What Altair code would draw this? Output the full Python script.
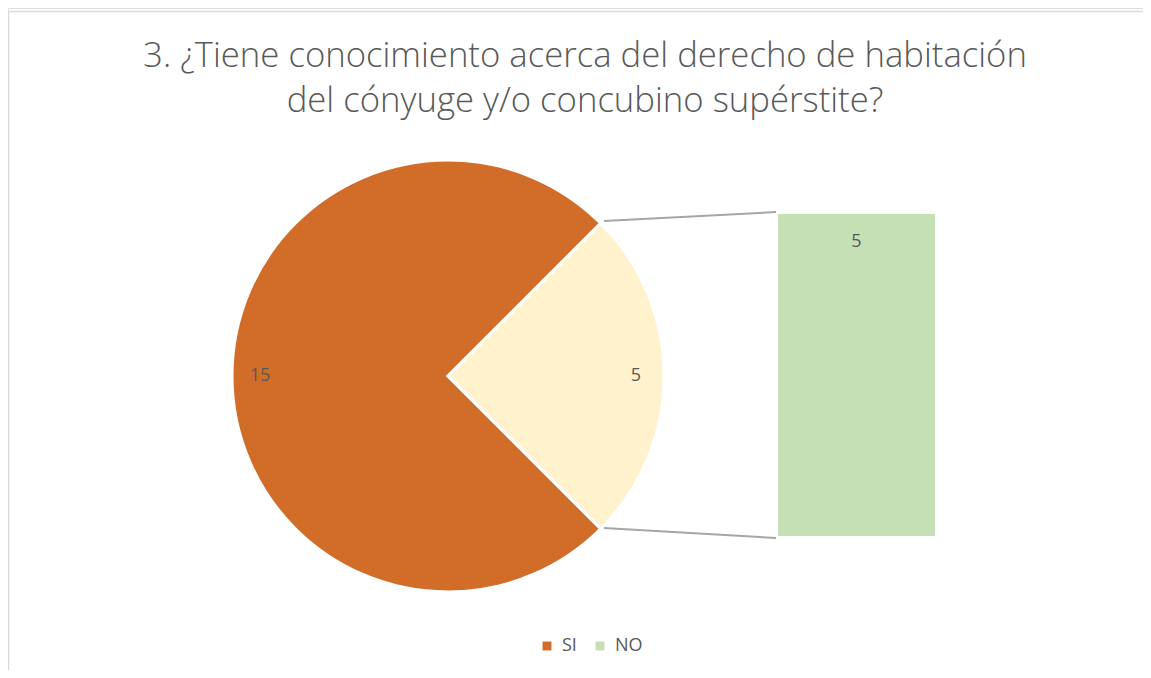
import math
import altair as alt
import pandas as pd

# ---- data ----
categories = ["SI", "NO"]
values = [15, 5]
slice_order = [1, 0]
bar_categories = ["NO"]
bar_values = [5]
bar_base = [0]
title_lines = ["3. ¿Tiene conocimiento acerca del derecho de habitación",
               "del cónyuge y/o concubino supérstite?"]

pie_df = pd.DataFrame({"cat": categories, "value": values, "ord": slice_order})
bar_df = pd.DataFrame({"cat": bar_categories, "value": bar_values, "base": bar_base})

ORANGE = "#D26D29"
YELLOW = "#FFF2CC"
GREEN = "#C5E0B4"
TXT = "#595959"
FONT = "Open Sans"

W, H = 1135, 662
CX, CY, R = 440, 368, 216

theta_scale = alt.Scale(range=[math.pi / 4, 2 * math.pi + math.pi / 4])

one = pd.DataFrame({"a": [0]})
border_top = alt.Chart(one).mark_rule(stroke="#D9D9D9", strokeWidth=1.5).encode(
    x=alt.value(0.5), x2=alt.value(W), y=alt.value(3.5))
border_left = alt.Chart(one).mark_rule(stroke="#D9D9D9", strokeWidth=1.5).encode(
    x=alt.value(0.5), y=alt.value(3.5), y2=alt.value(H))

pie = alt.Chart(pie_df).mark_arc(outerRadius=R, stroke="white", strokeWidth=3).encode(
    theta=alt.Theta("value:Q", stack=True, scale=theta_scale),
    order=alt.Order("ord:Q"),
    color=alt.Color("cat:N", scale=alt.Scale(domain=categories, range=[ORANGE, YELLOW]), legend=None),
    x=alt.value(CX), y=alt.value(CY),
)

pie_labels = alt.Chart(pie_df).mark_text(radius=188, fontSize=18, font=FONT, color=TXT).encode(
    theta=alt.Theta("value:Q", stack=True, scale=theta_scale),
    order=alt.Order("ord:Q"),
    text=alt.Text("value:Q"),
    x=alt.value(CX), y=alt.value(CY),
)

ybar = alt.Scale(domain=[0, 5], range=[528, 206])

bar = alt.Chart(bar_df).mark_rect().encode(
    x=alt.value(770), x2=alt.value(927),
    y=alt.Y("value:Q", scale=ybar, axis=None),
    y2="base:Q",
    color=alt.Color("cat:N", scale=alt.Scale(domain=categories, range=[ORANGE, GREEN]),
                    legend=alt.Legend(title=None, orient="none", direction="horizontal",
                                      legendX=530, legendY=629, symbolType="square",
                                      symbolSize=80, symbolStrokeWidth=0,
                                      labelFontSize=18, labelFont=FONT, labelColor=TXT,
                                      columnPadding=14, labelOffset=6)),
)

bar_label = alt.Chart(bar_df).mark_text(fontSize=18, font=FONT, color=TXT, dy=28).encode(
    x=alt.value(848.5),
    y=alt.Y("value:Q", scale=ybar, axis=None),
    text=alt.Text("value:Q"),
)

conn = pd.DataFrame({"x": [596, 596], "y": [213, 520], "x2": [768, 768], "y2": [204, 530]})
lines = alt.Chart(conn).mark_rule(color="#A6A6A6", strokeWidth=2).encode(
    x=alt.X("x:Q", scale=alt.Scale(domain=[0, W], range=[0, W]), axis=None),
    x2="x2:Q",
    y=alt.Y("y:Q", scale=alt.Scale(domain=[0, H], range=[0, H]), axis=None),
    y2="y2:Q",
)

title1 = alt.Chart(pd.DataFrame({"t": [title_lines[0]]})).mark_text(
    fontSize=34.7, font=FONT, fontWeight=300, color=TXT, align="center", baseline="middle"
).encode(x=alt.value(577), y=alt.value(49), text="t:N")
title2 = alt.Chart(pd.DataFrame({"t": [title_lines[1]]})).mark_text(
    fontSize=34.7, font=FONT, fontWeight=300, color=TXT, align="center", baseline="middle"
).encode(x=alt.value(577), y=alt.value(94), text="t:N")

chart = alt.layer(border_top, border_left, pie, pie_labels, bar, bar_label, lines, title1, title2).resolve_scale(
    color="independent", y="independent"
).properties(
    width=W, height=H, padding=0, autosize=alt.AutoSizeParams(type="none")
).configure_view(stroke=None).configure(background="white")

chart.save("out.html", embed_options={"renderer": "svg", "actions": False})
